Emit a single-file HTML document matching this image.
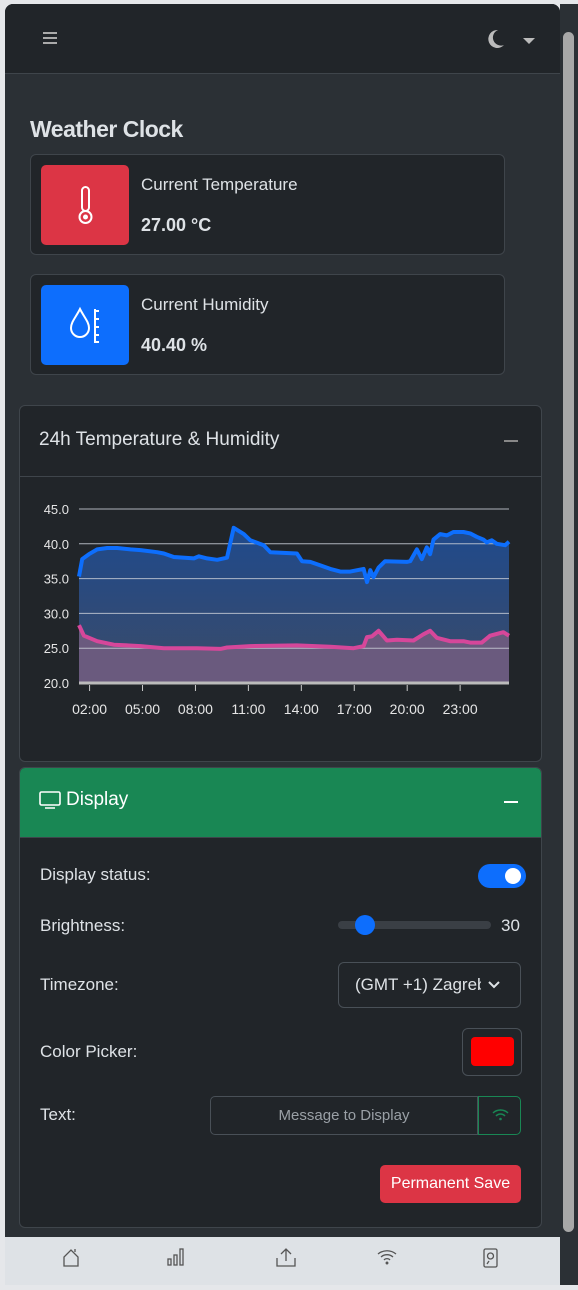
<!DOCTYPE html>
<html><head><meta charset="utf-8">
<style>
*{box-sizing:border-box;margin:0;padding:0}
body{width:578px;height:1285px;background:#e5e7ea;font-family:"Liberation Sans",sans-serif;position:relative;overflow:hidden;color:#dee2e6}
.abs{position:absolute}
#win{left:5px;top:4px;width:555px;height:1281px;background:#2b3035;border-radius:8px 8px 0 0;overflow:hidden}
.card{background:#212529;border:1px solid #3f454b;border-radius:6px}
.lbl{font-size:17px;color:#dee2e6}
</style></head><body>
<div id="win" class="abs">
  <div class="abs" style="left:0;top:0;width:555px;height:70px;background:#212529;border-bottom:1px solid #3f454b">
    <div class="abs" style="left:38px;top:28px;width:14px;height:12px;border-top:2px solid #aaa;border-bottom:2px solid #aaa"><div style="margin-top:3px;height:2px;background:#aaa"></div></div>
    <svg class="abs" style="left:480px;top:24px" width="20" height="22"><path d="M13 2 A9 9 0 1 0 19 17 A8 8 0 0 1 13 2Z" fill="#bbb"/></svg>
    <div class="abs" style="left:518px;top:34px;border:6px solid transparent;border-top:6px solid #bbb"></div>
  </div>
  <div class="abs" style="left:25px;top:112px;font-size:23px;font-weight:bold;color:#dee2e6;letter-spacing:-0.5px">Weather Clock</div>

  <div class="abs card" style="left:25px;top:150px;width:475px;height:101px">
    <div class="abs" style="left:10px;top:10px;width:88px;height:80px;background:#dc3545;border-radius:5px">
      <svg width="88" height="80"><rect x="41" y="22" width="7" height="24" rx="3.5" fill="none" stroke="#fff" stroke-width="2"/><circle cx="44.5" cy="52" r="6" fill="none" stroke="#fff" stroke-width="2"/><circle cx="44.5" cy="52" r="2.5" fill="#fff"/></svg>
    </div>
    <div class="abs lbl" style="left:110px;top:20px">Current Temperature</div>
    <div class="abs" style="left:110px;top:60px;font-size:18px;font-weight:bold">27.00 °C</div>
  </div>
  <div class="abs card" style="left:25px;top:270px;width:475px;height:101px">
    <div class="abs" style="left:10px;top:10px;width:88px;height:80px;background:#0d6efd;border-radius:5px">
      <svg width="88" height="80"><path d="M39 24 C35 32 30 37 30 43 A9 9 0 0 0 48 43 C48 37 43 32 39 24Z" fill="none" stroke="#fff" stroke-width="2"/><path d="M54 24V58M54 26h4M54 34h4M54 42h4M54 50h4M54 57h4" stroke="#fff" stroke-width="2"/></svg>
    </div>
    <div class="abs lbl" style="left:110px;top:20px">Current Humidity</div>
    <div class="abs" style="left:110px;top:60px;font-size:18px;font-weight:bold">40.40 %</div>
  </div>

  <div class="abs card" style="left:14px;top:401px;width:523px;height:357px">
    <div class="abs" style="left:0;top:0;width:521px;height:71px;border-bottom:1px solid #3f454b">
      <div class="abs" style="left:19px;top:23px;font-size:19px">24h Temperature &amp; Humidity</div>
      <div class="abs" style="left:484px;top:34px;width:14px;height:1.5px;background:#888"></div>
    </div>
  </div>
  <svg id="chart" class="abs" style="left:-5px;top:-4px" width="578" height="1285"></svg>

  <div class="abs card" style="left:14px;top:763px;width:523px;height:461px;overflow:hidden">
    <div class="abs" style="left:0;top:0;width:523px;height:70px;background:#198754;border-bottom:1px solid #3f454b">
      <svg class="abs" style="left:19px;top:23px" width="22" height="18"><rect x="1" y="1" width="20" height="13" rx="1.5" fill="none" stroke="#fff" stroke-width="1.6"/><path d="M6 17h10" stroke="#fff" stroke-width="1.6"/></svg>
      <div class="abs" style="left:46px;top:21px;font-size:19px;color:#fff">Display</div>
      <div class="abs" style="left:484px;top:33px;width:14px;height:1.5px;background:#fff"></div>
    </div>
    <div class="abs lbl" style="left:20px;top:97px">Display status:</div>
    <div class="abs" style="left:458px;top:96px;width:48px;height:24px;background:#0d6efd;border-radius:12px"><div style="position:absolute;right:5px;top:4px;width:16px;height:16px;border-radius:50%;background:#fff"></div></div>
    <div class="abs lbl" style="left:20px;top:148px">Brightness:</div>
    <div class="abs" style="left:318px;top:153px;width:153px;height:8px;background:#3a3f45;border-radius:4px"><div style="position:absolute;left:17px;top:-6px;width:20px;height:20px;border-radius:50%;background:#0d6efd"></div></div>
    <div class="abs lbl" style="left:481px;top:148px">30</div>
    <div class="abs lbl" style="left:20px;top:207px">Timezone:</div>
    <div class="abs" style="left:318px;top:194px;width:183px;height:46px;border:1px solid #495057;border-radius:6px;overflow:hidden">
      <div class="abs lbl" style="left:16px;top:12px;white-space:nowrap;width:126px;overflow:hidden">(GMT +1) Zagreb</div>
      <svg class="abs" style="left:148px;top:17px" width="14" height="10"><path d="M2 2l5 5 5-5" fill="none" stroke="#dee2e6" stroke-width="2"/></svg>
    </div>
    <div class="abs lbl" style="left:20px;top:274px">Color Picker:</div>
    <div class="abs" style="left:442px;top:260px;width:60px;height:48px;border:1px solid #495057;border-radius:6px"><div style="position:absolute;left:8px;top:8px;width:43px;height:29px;background:#f00;border-radius:4px"></div></div>
    <div class="abs lbl" style="left:20px;top:337px">Text:</div>
    <div class="abs" style="left:190px;top:328px;width:268px;height:39px;border:1px solid #495057;border-radius:5px 0 0 5px;text-align:center;line-height:37px;font-size:15px;color:#9aa0a6">Message to Display</div>
    <div class="abs" style="left:458px;top:328px;width:43px;height:39px;border:1px solid #198754;border-radius:0 5px 5px 0">
      <svg width="43" height="39"><path d="M14 16a11 11 0 0 1 15 0M17 19a6 6 0 0 1 9 0" fill="none" stroke="#198754" stroke-width="1.5"/><circle cx="21.5" cy="22" r="1.3" fill="#198754"/></svg>
    </div>
    <div class="abs" style="left:360px;top:397px;width:141px;height:38px;background:#dc3545;border-radius:5px;color:#fff;font-size:16px;text-align:center;line-height:38px">Permanent Save</div>
  </div>
</div>
<div class="abs" style="left:560px;top:4px;width:18px;height:1281px;background:#2b3035">
  <div class="abs" style="left:3px;top:28px;width:11px;height:1200px;background:#a8a8a8;border-radius:6px"></div>
</div>
<div class="abs" style="left:5px;top:1237px;width:555px;height:48px;background:#dee2e6">
  <svg width="555" height="48" fill="none" stroke="#555" stroke-width="1.3">
    <g><path d="M59 29V20l7-7 7 7v9zM70 15v-3"/></g>
    <g><rect x="163" y="22" width="3" height="6"/><rect x="169" y="18" width="3" height="10"/><rect x="175" y="12" width="3" height="16"/></g>
    <g><path d="M272 21v8h18v-8M281 24V12M276 17l5-5 5 5"/></g>
    <g><path d="M373 17a14 14 0 0 1 18 0M376 20a9 9 0 0 1 12 0M379 23a4 4 0 0 1 6 0"/><circle cx="382" cy="26" r="0.8" fill="#555"/></g>
    <g><rect x="479" y="12" width="13" height="18" rx="1.5"/><circle cx="485.5" cy="19" r="3"/><path d="M484 24l-2 3"/></g>
  </svg>
</div>
<script>
const hourTicks=[2,5,8,11,14,17,20,23];
const tickLabels=["02:00","05:00","08:00","11:00","14:00","17:00","20:00","23:00"];
const yTicks=[20,25,30,35,40,45];
const humHours=[1.40,1.58,1.96,2.43,3.00,3.57,4.32,4.89,5.83,6.21,6.77,7.91,8.19,8.66,9.23,9.79,10.17,10.74,11.11,11.87,12.25,13.75,14.04,14.51,15.08,15.64,16.21,16.77,17.53,17.72,17.91,18.09,18.38,18.75,19.98,20.17,20.55,20.83,21.11,21.30,21.49,21.87,22.25,22.62,23.19,23.57,23.94,24.32,24.51,24.79,25.08,25.55,25.77];
const humValues=[35.3,37.8,38.5,39.2,39.4,39.4,39.2,39.1,38.8,38.6,38.1,37.9,38.2,37.9,37.7,38.0,42.3,41.4,40.5,39.8,38.8,38.6,37.5,37.4,36.9,36.4,36.0,36.0,36.4,34.5,36.2,35.2,36.6,37.5,37.4,37.5,39.2,37.8,39.5,38.5,40.6,41.4,41.2,41.7,41.7,41.5,41.0,40.6,40.2,40.5,40.0,39.8,40.3];
const tempHours=[1.40,1.68,2.43,3.38,4.89,6.21,8.09,9.42,9.79,11.11,13.75,15.64,16.96,17.34,17.53,17.72,18.00,18.38,18.85,19.42,20.36,20.92,21.30,21.68,22.43,23.19,23.57,24.23,24.70,25.45,25.77];
const tempValues=[28.3,26.8,26.0,25.5,25.3,25.0,25.0,24.9,25.1,25.3,25.4,25.2,25.0,25.2,25.3,26.6,26.7,27.5,26.1,26.2,26.1,27.0,27.5,26.5,26.0,26.0,25.8,25.8,26.8,27.3,26.8];
const X0=79,X1=509,Y0=683,Y1=509,HMIN=1.40,HMAX=25.77,VMIN=20,VMAX=45;
const xs=h=>X0+(h-HMIN)/(HMAX-HMIN)*(X1-X0);
const ys=v=>Y0-(v-VMIN)/(VMAX-VMIN)*(Y0-Y1);
const svg=document.getElementById('chart');
const NS='http://www.w3.org/2000/svg';
function mk(t,a){const e=document.createElementNS(NS,t);for(const k in a)e.setAttribute(k,a[k]);svg.appendChild(e);return e;}
svg.innerHTML='<defs><linearGradient id="gb" x1="0" y1="0" x2="0" y2="1"><stop offset="0" stop-color="#1f4a8c"/><stop offset="1" stop-color="#3b4b68"/></linearGradient></defs>';
function pts(H,V){return H.map((h,i)=>xs(h).toFixed(1)+','+ys(V[i]).toFixed(1)).join(' ');}
let a=mk('polygon',{points:xs(humHours[0])+','+Y0+' '+pts(humHours,humValues)+' '+xs(humHours[humHours.length-1])+','+Y0,fill:'url(#gb)'});


a=mk('polygon',{points:xs(tempHours[0])+','+Y0+' '+pts(tempHours,tempValues)+' '+xs(tempHours[tempHours.length-1])+','+Y0,fill:'#6a5a7e'});


yTicks.forEach(v=>{
  const g=mk('line',{x1:X0,x2:X1,y1:ys(v),y2:ys(v),stroke:v==20?'#bbb':'#c8ccd6','stroke-width':v==20?3:1,'stroke-opacity':v==20?1:0.85});
  
  
  const t=mk('text',{x:69,y:ys(v)+5,'text-anchor':'end','font-size':13,fill:'#e6e6e6','font-family':'Liberation Sans, sans-serif'});
  t.textContent=v.toFixed(1);
  
  
});
hourTicks.forEach((h,i)=>{
  mk('line',{x1:xs(h),x2:xs(h),y1:Y0+2,y2:Y0+8,stroke:'#ccc','stroke-width':1});
  const t=mk('text',{x:xs(h),y:Y0+31,'text-anchor':'middle','font-size':14,fill:'#e6e6e6','font-family':'Liberation Sans, sans-serif'});
  t.textContent=tickLabels[i];
  
  
});
let l=mk('polyline',{points:pts(humHours,humValues),fill:'none',stroke:'#0d6efd','stroke-width':4,'stroke-linejoin':'round'});


l=mk('polyline',{points:pts(tempHours,tempValues),fill:'none',stroke:'#d6479a','stroke-width':4,'stroke-linejoin':'round'});


</script>
</body></html>
